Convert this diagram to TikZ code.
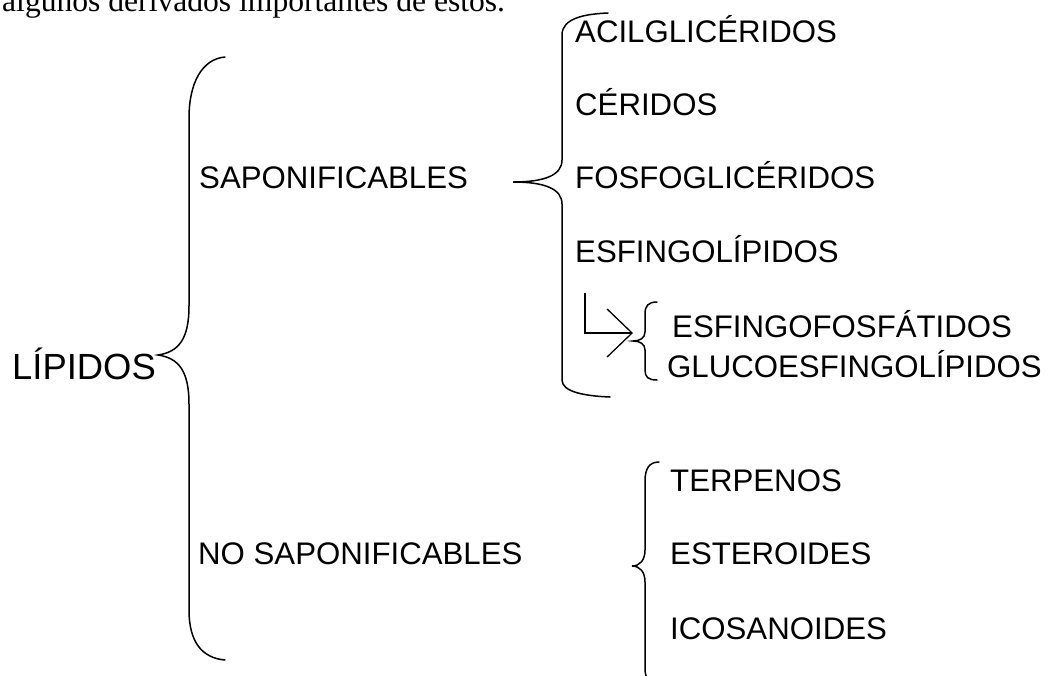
\documentclass[tikz,border=0pt]{standalone}
\usepackage{fontspec}
\setmainfont{Liberation Sans}
\newfontfamily\introfont{Liberation Serif}
\usetikzlibrary{arrows.meta}

\tikzset{
	entry/.style={anchor=base west, inner sep=0pt, font=\fontsize{31.2}{36}\selectfont},
	big entry/.style={entry, font=\fontsize{36.4}{40}\selectfont},
	curly/.style={line width=1.5pt, line cap=round},
	bend arrow/.style={line width=1.3pt, -{Straight Barb[length=25pt, width=48pt, line width=1.3pt]}}
}

\begin{document}
\begin{tikzpicture}[x=1pt, y=-1pt]
		\useasboundingbox (0,0) rectangle (1055,675);
		\clip (0,0) rectangle (1055,675);
	
		\node [entry, font=\introfont\fontsize{31.6}{36}\selectfont] (intro) at (2,11) {algunos derivados importantes de estos.};
	
		\node [big entry] (lipidos) at (12,379) {LÍPIDOS};
		\node [entry] (sapon) at (199,188) {SAPONIFICABLES};
		\node [entry] (nosapon) at (198,564) {NO SAPONIFICABLES};
	
		\node [entry] (acil) at (575,42) {ACILGLICÉRIDOS};
		\node [entry] (ceridos) at (575,115) {CÉRIDOS};
		\node [entry] (fosfo) at (575,188) {FOSFOGLICÉRIDOS};
		\node [entry] (esfingo) at (575,262) {ESFINGOLÍPIDOS};
	
		\node [entry] (esfosf) at (672,337) {ESFINGOFOSFÁTIDOS};
		\node [entry] (gluco) at (667,377) {GLUCOESFINGOLÍPIDOS};
	
		\node [entry] (terp) at (670,491) {TERPENOS};
		\node [entry] (ester) at (670,564) {ESTEROIDES};
		\node [entry] (icos) at (670,639) {ICOSANOIDES};
	
		\draw [curly] (225,57) coordinate (lip top)
			.. controls (202,59) and (189,83) .. (189,118)
			-- (189,306) .. controls (189,340) and (178,352) .. (158,355) coordinate (lip tip)
			.. controls (178,358) and (189,370) .. (189,404)
			-- (189,610) .. controls (189,642) and (202,658) .. (225,660) coordinate (lip bottom);
	
		\draw [curly] (608,13) coordinate (sap top)
			.. controls (585,14) and (562,18) .. (562,35)
			-- (562,160) .. controls (562,175) and (545,182) .. (513,182) coordinate (sap tip)
			.. controls (545,182) and (562,189) .. (562,204)
			-- (562,380) .. controls (562,392) and (585,396) .. (610,397) coordinate (sap bottom);
	
		\draw [curly] (657,302) coordinate (esf top)
			.. controls (648,302) and (645,306) .. (645,314)
			-- (645,332) .. controls (645,338) and (640,341) .. (633,341) coordinate (esf tip)
			.. controls (640,341) and (645,344) .. (645,350)
			-- (645,370) .. controls (645,377) and (648,380) .. (657,380) coordinate (esf bottom);
	
		\draw [curly] (659,462) coordinate (nosap top)
			.. controls (649,462) and (645,469) .. (645,481)
			-- (645,550) .. controls (645,560) and (640,566) .. (632,566) coordinate (nosap tip)
			.. controls (640,566) and (645,572) .. (645,582)
			-- (645,668) .. controls (645,678) and (648,682) .. (657,682) coordinate (nosap bottom);
	
		\coordinate (bend end) at (633,333);
		\draw [bend arrow] (esfingo.south west) ++(10,30) |- (bend end);
	
	\end{tikzpicture}
\end{document}
